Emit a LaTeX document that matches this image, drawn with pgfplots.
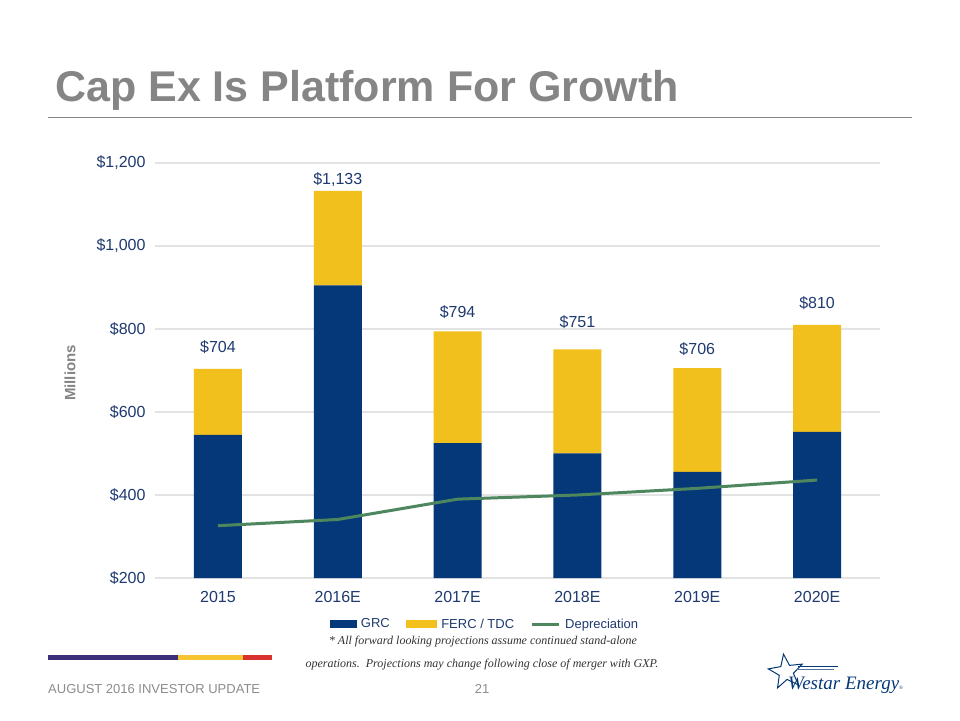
\documentclass[border=0pt]{standalone}
\usepackage{pgfplots}
\pgfplotsset{compat=1.18}
\usepackage{pgfplotstable}
\usepackage{fontspec}
\setmainfont{Liberation Sans}
\newfontfamily\serifit{Liberation Serif}
\usetikzlibrary{shapes.geometric}

\definecolor{grc}{HTML}{053878}
\definecolor{ferc}{HTML}{F2C01C}
\definecolor{dep}{HTML}{4E875E}
\definecolor{lbl}{HTML}{1F3A70}
\definecolor{gridc}{HTML}{E3E3E3}
\definecolor{titlec}{HTML}{858585}
\definecolor{barpurple}{HTML}{3B2F7A}
\definecolor{baryellow}{HTML}{F5C431}
\definecolor{barred}{HTML}{D9322E}

% capex in $ millions; laby = where the total label sits
\pgfplotstableread{
x grc ferc total dep laby
0 545 159 704 326 757
1 905 228 1133 341 1159
2 525 269 794 390 841
3 500 251 751 400 817
4 456 250 706 416 752
5 552 258 810 436 863
}\capex

\begin{document}
\begin{tikzpicture}[x=1pt,y=1pt]
\fill[white] (0,0) rectangle (960,720);
\useasboundingbox (0,0) rectangle (960,720);

% slide furniture
\node[anchor=base west, inner sep=0, text=titlec,
  font=\fontsize{43}{50}\selectfont\bfseries] at (55,618) {Cap Ex Is Platform For Growth};
\draw[titlec, line width=1pt] (48,602) -- (912,602);
\node[rotate=90, text=titlec, font=\fontsize{15}{18}\selectfont\bfseries] at (70,347) {Millions};

\begin{axis}[
  at={(155pt,142pt)}, anchor=south west,
  width=725pt, height=415pt, scale only axis,
  ybar stacked, bar width=48pt,
  xmin=-0.525, xmax=5.525, ymin=200, ymax=1200,
  xtick={0,...,5}, xticklabels={2015,2016E,2017E,2018E,2019E,2020E},
  ytick={200,400,...,1200},
  yticklabels={\$200,\$400,\$600,\$800,{\$1,000},{\$1,200}},
  ymajorgrids, grid style={gridc, line width=1.5pt},
  axis line style={draw=none}, major tick length=0pt,
  tick label style={font=\fontsize{16}{19}\selectfont, text=lbl},
  xticklabel style={yshift=-10pt},
  yticklabel style={xshift=-6pt},
]
\addplot[fill=grc, draw=none] table[x=x,y=grc] {\capex};
\addplot[fill=ferc, draw=none] table[x=x,y=ferc] {\capex};
\end{axis}

\begin{axis}[
  at={(155pt,142pt)}, anchor=south west,
  width=725pt, height=415pt, scale only axis,
  xmin=-0.525, xmax=5.525, ymin=200, ymax=1200,
  hide axis, clip=false,
  legend columns=3,
  legend style={at={(axis description cs:0.455,-0.111)}, anchor=center,
    draw=none, fill=none, font=\fontsize{13}{15}\selectfont, text=lbl,
    /tikz/every odd column/.append style={column sep=3pt},
    /tikz/every even column/.append style={column sep=14pt}},
]
\addlegendimage{legend image code/.code={\fill[grc] (0pt,-3.5pt) rectangle (26pt,3.5pt);}}
\addlegendentry{GRC}
\addlegendimage{legend image code/.code={\fill[ferc] (0pt,-3.5pt) rectangle (30pt,3.5pt);}}
\addlegendentry{FERC / TDC}
\addplot[dep, line width=3pt,
  legend image code/.code={\draw[dep, line width=3pt] (0pt,0pt) -- (27pt,0pt);}]
  table[x=x,y=dep] {\capex};
\addlegendentry{Depreciation}
\addplot[draw=none, mark=none, forget plot, point meta=explicit,
  nodes near coords={\$\pgfmathprintnumber[assume math mode=true,1000 sep={,},fixed,precision=0]{\pgfplotspointmeta}},
  nodes near coords style={anchor=center, font=\fontsize{16}{19}\selectfont, text=lbl}]
  table[x=x,y=laby,meta=total] {\capex};
\end{axis}

% footnote
\node[font=\serifit\itshape\fontsize{12}{14}\selectfont, text=black!80] at (483,78)
  {* All forward looking projections assume continued stand-alone};
\node[font=\serifit\itshape\fontsize{12}{14}\selectfont, text=black!80] at (482,55)
  {operations.\ \ Projections may change following close of merger with GXP.};

% colour strip and footer
\fill[barpurple] (48,60) rectangle (178,65);
\fill[baryellow] (178,60) rectangle (243,65);
\fill[barred] (243,60) rectangle (272,65);
\node[anchor=base west, inner sep=0, text=black!45, font=\fontsize{13}{15}\selectfont] at (48,27)
  {AUGUST 2016 INVESTOR UPDATE};
\node[anchor=base, inner sep=0, text=black!45, font=\fontsize{13}{15}\selectfont] at (482,27) {21};

% logo
\node[star, star points=5, star point ratio=2.4, draw=grc, line width=1pt,
  minimum size=36pt, inner sep=0, rotate=8] at (786,48) {};
\draw[grc, line width=0.6pt] (798,54) -- (838,54);
\draw[grc!70, line width=0.6pt] (796,51) -- (834,51);
\node[anchor=base west, inner sep=0, text=grc, font=\serifit\itshape\fontsize{19}{22}\selectfont]
  at (788,31) {Westar Energy\raisebox{0pt}{\fontsize{5}{6}\selectfont\upshape\textregistered}};
\end{tikzpicture}
\end{document}
